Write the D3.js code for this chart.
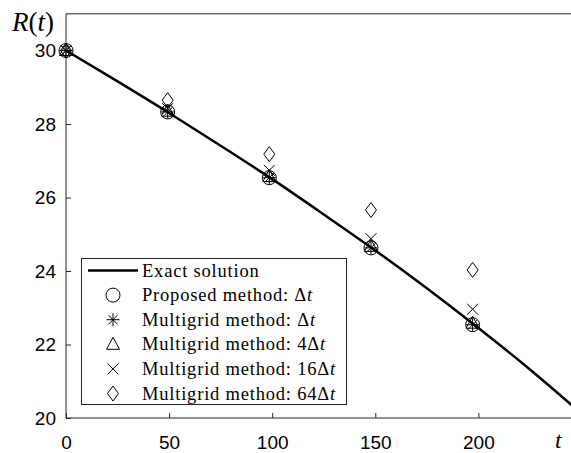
<!DOCTYPE html>
<html>
<head>
<meta charset="utf-8">
<script src="https://cdn.jsdelivr.net/npm/d3@7"></script>
<style>
  html, body { margin: 0; padding: 0; background: #fff; }
  svg { display: block; }
</style>
</head>
<body>
<svg id="chart" width="571" height="453"></svg>
<script>
// Exact solution R(t), sampled every 25 time units
const exactT = [0, 25, 50, 75, 100, 125, 150, 175, 200, 225, 250];
const exactR = [30.0, 29.16, 28.30, 27.41, 26.50, 25.54, 24.56, 23.53, 22.45, 21.32, 20.12];

// Output times of the numerical methods
const sampleT = [0, 49.3, 98.6, 147.9, 197.2];

// Numerical results for each method
const proposedDt = [30.0, 28.33, 26.54, 24.63, 22.54];
const multigridDt = [30.0, 28.33, 26.54, 24.63, 22.54];
const multigrid4Dt = [30.0, 28.35, 26.57, 24.67, 22.58];
const multigrid16Dt = [30.0, 28.42, 26.74, 24.88, 22.96];
const multigrid64Dt = [30.0, 28.65, 27.18, 25.66, 24.03];

// Axis ticks
const xTicks = [0, 50, 100, 150, 200];
const yTicks = [20, 22, 24, 26, 28, 30];

const legendLabels = [
  { text: "Exact solution", mult: null },
  { text: "Proposed method: ", mult: "" },
  { text: "Multigrid method: ", mult: "" },
  { text: "Multigrid method: ", mult: "4" },
  { text: "Multigrid method: ", mult: "16" },
  { text: "Multigrid method: ", mult: "64" }
];

const svg = d3.select("#chart");
const axisColor = "#262626";

const x = d3.scaleLinear().domain([0, 250]).range([66, 581.5]);
const y = d3.scaleLinear().domain([20, 31]).range([418, 13.8]);

// Plot frame (top edge), then axes
svg.append("line")
  .attr("x1", x(0)).attr("x2", x(250))
  .attr("y1", y(31)).attr("y2", y(31))
  .attr("stroke", axisColor).attr("stroke-width", 1);

const xAxis = svg.append("g")
  .attr("transform", `translate(0,${y(20)})`)
  .call(d3.axisBottom(x).tickValues(xTicks).tickSizeInner(-5).tickSizeOuter(0).tickPadding(18).tickFormat(d3.format("d")));
const yAxis = svg.append("g")
  .attr("transform", `translate(${x(0)},0)`)
  .call(d3.axisLeft(y).tickValues(yTicks).tickSizeInner(-5).tickSizeOuter(0).tickPadding(10).tickFormat(d3.format("d")));

[xAxis, yAxis].forEach(g => {
  g.select(".domain").attr("stroke", axisColor).attr("stroke-width", 1);
  g.selectAll(".tick line").attr("stroke", axisColor);
  g.selectAll(".tick text")
    .attr("fill", "#000")
    .style("font-family", "'Liberation Sans', Arial, sans-serif")
    .style("font-size", "19px");
});
// full-length axis lines
xAxis.select(".domain").attr("d", `M${x(0)},0H${x(250)}`);
yAxis.select(".domain").attr("d", `M0,${y(20)}V${y(31)}`);

// Axis titles
const title = svg.append("text")
  .attr("x", 12).attr("y", 31)
  .style("font-family", "'Liberation Serif', 'Times New Roman', serif")
  .style("font-size", "27px");
title.append("tspan").attr("font-style", "italic").text("R");
title.append("tspan").text("(");
title.append("tspan").attr("font-style", "italic").text("t");
title.append("tspan").text(")");

svg.append("text")
  .attr("x", 555).attr("y", 448)
  .attr("font-style", "italic")
  .style("font-family", "'Liberation Serif', 'Times New Roman', serif")
  .style("font-size", "24px")
  .text("t");

// Exact solution curve
const line = d3.line()
  .x((d, i) => x(exactT[i]))
  .y(d => y(d))
  .curve(d3.curveNatural);
svg.append("path")
  .datum(exactR)
  .attr("d", line)
  .attr("fill", "none")
  .attr("stroke", "#000")
  .attr("stroke-width", 2.5);

// Marker shapes
const markers = {
  circle: g => g.append("circle").attr("r", 7),
  asterisk: g => {
    const r = 6.5;
    const p = [];
    for (let k = 0; k < 4; k++) {
      const a = k * Math.PI / 4;
      p.push(`M${-r * Math.cos(a)},${-r * Math.sin(a)}L${r * Math.cos(a)},${r * Math.sin(a)}`);
    }
    g.append("path").attr("d", p.join(""));
  },
  triangle: g => g.append("path").attr("d", "M0,-7L6.5,5L-6.5,5Z"),
  cross: g => g.append("path").attr("d", "M-5.5,-5.5L5.5,5.5M-5.5,5.5L5.5,-5.5"),
  diamond: g => g.append("path").attr("d", "M0,-7.5L5.5,0L0,7.5L-5.5,0Z")
};

const series = [
  { values: proposedDt, shape: "circle" },
  { values: multigridDt, shape: "asterisk" },
  { values: multigrid4Dt, shape: "triangle" },
  { values: multigrid16Dt, shape: "cross" },
  { values: multigrid64Dt, shape: "diamond" }
];

series.forEach(s => {
  s.values.forEach((v, i) => {
    const g = svg.append("g")
      .attr("transform", `translate(${x(sampleT[i])},${y(v)})`)
      .attr("fill", "none").attr("stroke", "#000").attr("stroke-width", 1);
    markers[s.shape](g);
  });
});

// Legend
const lg = svg.append("g");
lg.append("rect")
  .attr("x", 81.5).attr("y", 258.5)
  .attr("width", 265).attr("height", 146)
  .attr("fill", "#fff").attr("stroke", axisColor).attr("stroke-width", 1);

const rowY = i => 270.5 + i * 24.6;
lg.append("line")
  .attr("x1", 88).attr("x2", 138)
  .attr("y1", rowY(0)).attr("y2", rowY(0))
  .attr("stroke", "#000").attr("stroke-width", 2.5);
series.forEach((s, i) => {
  const g = lg.append("g")
    .attr("transform", `translate(113,${rowY(i + 1)})`)
    .attr("fill", "none").attr("stroke", "#000").attr("stroke-width", 1);
  markers[s.shape](g);
});
legendLabels.forEach((d, i) => {
  const t = lg.append("text")
    .attr("x", 142).attr("y", rowY(i))
    .attr("dy", "0.33em")
    .style("font-family", "'Liberation Serif', 'Times New Roman', serif")
    .style("font-size", "18.5px")
    .style("letter-spacing", "0.8px");
  t.append("tspan").text(d.text);
  if (d.mult !== null) {
    t.append("tspan").text(d.mult + "Δ");
    t.append("tspan").attr("font-style", "italic").text("t");
  }
});
</script>
</body>
</html>
